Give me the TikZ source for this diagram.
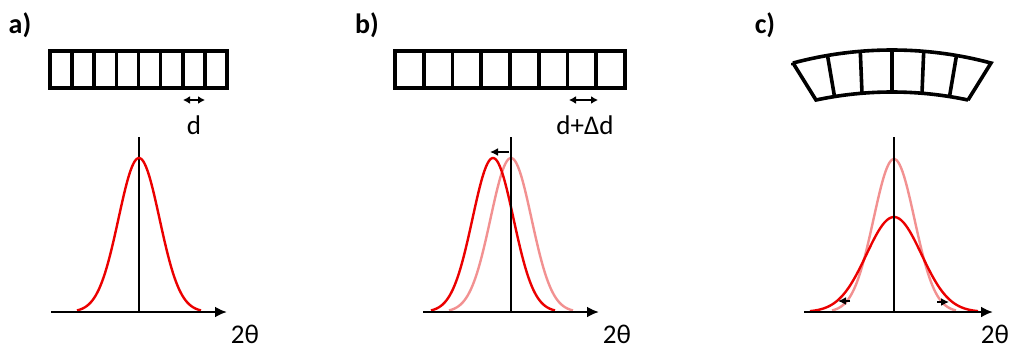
\documentclass[tikz,border=0pt]{standalone}
\usepackage{fontspec}
\setmainfont{Carlito}
\usepackage{tikz}
\usetikzlibrary{arrows.meta, positioning, calc}
\definecolor{peakred}{RGB}{235,0,0}
\definecolor{ghostred}{RGB}{242,145,145}

\begin{document}
\begin{tikzpicture}[
  x=1pt, y=-1pt,
  cellbox/.style={line width=3.6pt, black, line join=miter, miter limit=2},
  axis/.style={line width=2.4pt, black, -{Latex[length=12pt, width=11pt]}},
  vaxis/.style={line width=2pt, black},
  peak/.style={line width=2.4pt, peakred},
  ghost/.style={line width=2.4pt, ghostred},
  spacing/.style={line width=2pt, {Latex[length=7pt, width=8pt]}-{Latex[length=7pt, width=8pt]}},
  shift arr/.style={line width=2pt, -{Latex[length=8pt, width=8pt]}},
  lbl/.style={font=\fontsize{27}{31}\selectfont, inner sep=0pt},
  tag/.style={font=\fontsize{28}{32}\selectfont\bfseries, inner sep=0pt},
]
\useasboundingbox (0,0) rectangle (1012,349);

% Panel a
\node[tag] (taga) at (20,25) {a)};
\draw[cellbox] (50,51) rectangle (227,88);
\foreach \i in {1,...,7}
  \draw[cellbox] ({50+\i*22.125},51) -- ({50+\i*22.125},88);
\coordinate (da1) at (183,100);
\coordinate (da2) at (205,100);
\draw[spacing] (da1) -- (da2);
\node[lbl] (da) at (194,125) {d};
\coordinate (oa) at (51,312);
\coordinate (ea) at (227,312);
\draw[vaxis] (139,137) -- (139,312);
\draw[peak] plot[domain=-62:62, samples=80] ({139+\x},{312-154*exp(-(\x/20.5)^2/2)});
\draw[axis] (oa) -- (ea);
\node[lbl] (xa) at (245,334) {2θ};

% Panel b
\node[tag] (tagb) at (367,25) {b)};
\draw[cellbox] (395,51) rectangle (625,88);
\foreach \i in {1,...,7}
  \draw[cellbox] ({395+\i*28.75},51) -- ({395+\i*28.75},88);
\coordinate (db1) at (569,100);
\coordinate (db2) at (598,100);
\draw[spacing] (db1) -- (db2);
\node[lbl] (db) at (585,125) {d+Δd};
\coordinate (ob) at (423,312);
\coordinate (eb) at (599,312);
\draw[ghost] plot[domain=-62:62, samples=80] ({511+\x},{312-154*exp(-(\x/20.5)^2/2)});
\draw[peak] plot[domain=-62:62, samples=80] ({493+\x},{312-154*exp(-(\x/20.5)^2/2)});
\draw[vaxis] (511,137) -- (511,312);
\coordinate (sb1) at (509,152);
\coordinate (sb2) at (490,152);
\draw[shift arr] (sb1) -- (sb2);
\draw[axis] (ob) -- (eb);
\node[lbl] (xb) at (617,334) {2θ};

% Panel c
\node[tag] (tagc) at (765,25) {c)};
\draw[cellbox] (793,63)
  -- plot[domain=-99:99, samples=40] ({892+\x},{433-383*sqrt(1-(\x/383)^2)})
  -- (968,100)
  -- plot[domain=76:-76, samples=40] ({892+\x},{457-365*sqrt(1-(\x/365)^2)})
  -- cycle;
\foreach \t/\b in {-64.5/-57.5, -31.7/-30, 0/0, 31.7/30, 64.5/57.5}
  \draw[cellbox] ({892+\t},{433-383*sqrt(1-(\t/383)^2)}) -- ({892+\b},{457-365*sqrt(1-(\b/365)^2)});
\coordinate (oc) at (804,312);
\coordinate (ec) at (993,312);
\draw[ghost] plot[domain=-62:62, samples=80] ({894+\x},{312-153*exp(-(\x/20.5)^2/2)});
\draw[peak] plot[domain=-84:84, samples=80] ({894+\x},{312-95*exp(-(\x/27.5)^2/2)});
\draw[vaxis] (894,137) -- (894,312);
\coordinate (sc1) at (850,301);
\coordinate (sc2) at (838,301);
\coordinate (sc3) at (937,302);
\coordinate (sc4) at (949,302);
\draw[shift arr] (sc1) -- (sc2);
\draw[shift arr] (sc3) -- (sc4);
\draw[axis] (oc) -- (ec);
\node[lbl] (xc) at (995,334) {2θ};

\end{tikzpicture}
\end{document}
